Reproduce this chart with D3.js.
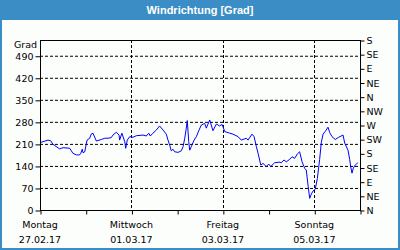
<!DOCTYPE html>
<html>
<head>
<meta charset="utf-8">
<script src="https://cdn.jsdelivr.net/npm/d3@7"></script>
<style>
  body { margin: 0; background: #fff; }
  text { font-family: "DejaVu Sans", Verdana, sans-serif; font-size: 9.5px; }
</style>
</head>
<body>
<svg width="400" height="250"></svg>
<script>
// stunden seit Montag 27.02.17 00:00
var hours = [0.5, 4.2, 5.6, 6.8, 10.3, 12.1, 15.6, 17.3, 19.1, 20.8, 21.4, 22.2, 22.6, 23.5,
    24.7, 26.1, 26.9, 27.8, 29.6, 32.2, 34, 35.7, 37.4, 38.3, 40.1, 41.5, 41.8, 43, 44.5, 45,
    45.8, 47.1, 48.8, 50.6, 54.1, 55.8, 57.1, 57.9, 59.3, 61.1, 62.8, 64.6, 66.3, 67.2, 68.1,
    68.9, 69.8, 70.7, 72.5, 74.2, 75.1, 76, 76.8, 77.3, 78.1, 78.6, 79.4, 80.9, 82.1, 83.5,
    84.7, 86.5, 87.3, 89.1, 90.8, 92.6, 94.3, 95.6, 97, 99.6, 101.3, 104, 105.7, 108.3, 109.2,
    111.3, 112.4, 113.6, 114.5, 115.9, 117.1, 118.8, 120.1, 121.1, 123.2, 125.5, 126.7, 128.1,
    129.3, 131.1, 132.3, 133.7, 135.1, 136.3, 137.6, 139, 139.8, 140.7, 141.6, 142.4, 143.3,
    144.5, 145.6, 146.8, 147.7, 148.6, 149.8, 151.2, 152.1, 153.3, 155, 156.8, 159.1, 160,
    161.7, 162.6, 163.1, 163.8, 164.5, 165.5, 166.9];
var grad = [215, 222, 220, 209, 194, 198, 196, 180, 175, 175, 180, 193, 182, 185,
    222, 228, 241, 244, 219, 224, 228, 228, 230, 238, 247, 238, 222, 244, 217, 196,
    222, 233, 231, 236, 238, 235, 244, 235, 244, 254, 267, 254, 241, 222, 206,
    188, 193, 185, 183, 188, 201, 228, 260, 284, 217, 190, 201, 222, 233, 254,
    270, 275, 260, 286, 252, 273, 267, 272, 249, 244, 241, 233, 222, 228, 222,
    241, 233, 201, 180, 143, 148, 138, 146, 138, 150, 152, 150, 159,
    153, 161, 169, 164, 178, 185, 153, 132, 127, 79, 37, 50, 60,
    66, 100, 160, 215, 241, 250, 263, 246, 233, 224, 231, 238, 212,
    190, 160, 138, 117, 133, 143, 150];

var leftTicks = [0, 70, 140, 210, 280, 350, 420, 490];
var rightTicks = [0, 45, 90, 135, 180, 225, 270, 315, 360, 405, 450, 495, 540];
var rightLabels = ["N", "NE", "E", "SE", "S", "SW", "W", "NW", "N", "NE", "E", "SE", "S"];
var dayNames = ["Montag", "Mittwoch", "Freitag", "Sonntag"];
var dayDates = ["27.02.17", "01.03.17", "03.03.17", "05.03.17"];

var start = new Date(2017, 1, 27);
var end = new Date(2017, 2, 6);
var svg = d3.select("svg");

var x = d3.scaleTime().domain([start, end]).range([40, 360]);
var y = d3.scaleLinear().domain([0, 540]).range([210, 40]);

function dayAt(i) {
    return d3.timeDay.offset(start, i);
}

// rahmen + titel
svg.append("rect").attr("x", 1).attr("y", 1).attr("width", 398).attr("height", 248)
    .attr("fill", "#fcfefc").attr("stroke", "#3a8dc5").attr("stroke-width", 2);
svg.append("rect").attr("x", 0).attr("y", 0).attr("width", 400).attr("height", 20)
    .attr("fill", "#3a8dc5");
svg.append("text").attr("x", 200).attr("y", 14).attr("text-anchor", "middle")
    .attr("fill", "white").attr("font-weight", "bold")
    .style("font-family", "Liberation Sans, Arial, sans-serif").style("font-size", "11px")
    .text("Windrichtung [Grad]");

// gitter
svg.selectAll(".hgrid").data(leftTicks.slice(1)).enter().append("line")
    .attr("class", "hgrid")
    .attr("x1", 40).attr("x2", 360)
    .attr("y1", function(d) { return y(d) + 0.5; })
    .attr("y2", function(d) { return y(d) + 0.5; })
    .attr("stroke", "black").attr("stroke-dasharray", "3,2");

svg.selectAll(".vgrid").data([2, 4, 6]).enter().append("line")
    .attr("class", "vgrid")
    .attr("x1", function(d) { return Math.round(x(dayAt(d))) + 0.5; })
    .attr("x2", function(d) { return Math.round(x(dayAt(d))) + 0.5; })
    .attr("y1", 40).attr("y2", 210)
    .attr("stroke", "black").attr("stroke-dasharray", "3,2");

// achsen
var left = svg.append("g").attr("transform", "translate(40.5,0.5)")
    .call(d3.axisLeft(y).tickValues(leftTicks).tickSize(5).tickPadding(2));
var right = svg.append("g").attr("transform", "translate(360.5,0.5)")
    .call(d3.axisRight(y).tickValues(rightTicks).tickSize(4).tickPadding(2)
        .tickFormat(function(d, i) { return rightLabels[i]; }));
var bottom = svg.append("g").attr("transform", "translate(0.5,210.5)")
    .call(d3.axisBottom(x).ticks(d3.timeDay.every(1)).tickSize(4).tickFormat(""));

[left, right, bottom].forEach(function(g) {
    g.select(".domain").remove();
    g.selectAll("line").attr("stroke", "black");
    g.selectAll("text").attr("fill", "black")
        .style("font-family", "DejaVu Sans, Verdana, sans-serif").style("font-size", "9.5px");
});

svg.append("rect").attr("x", 40.5).attr("y", 40.5).attr("width", 320).attr("height", 170)
    .attr("fill", "none").attr("stroke", "black");

svg.append("text").attr("x", 37).attr("y", 48).attr("text-anchor", "end").text("Grad");

// tage
for (var i = 0; i < dayNames.length; i++) {
    var tx = x(dayAt(i * 2));
    svg.append("text").attr("x", tx).attr("y", 228).attr("text-anchor", "middle").text(dayNames[i]);
    svg.append("text").attr("x", tx).attr("y", 243).attr("text-anchor", "middle").text(dayDates[i]);
}

// windrichtung
var points = hours.map(function(h, i) {
    return [d3.timeMinute.offset(start, Math.round(h * 60)), grad[i]];
});
var line = d3.line()
    .x(function(d) { return x(d[0]); })
    .y(function(d) { return y(d[1]); });
svg.append("path").datum(points).attr("d", line)
    .attr("fill", "none").attr("stroke", "#0000ff").attr("stroke-width", 1);
</script>
</body>
</html>
